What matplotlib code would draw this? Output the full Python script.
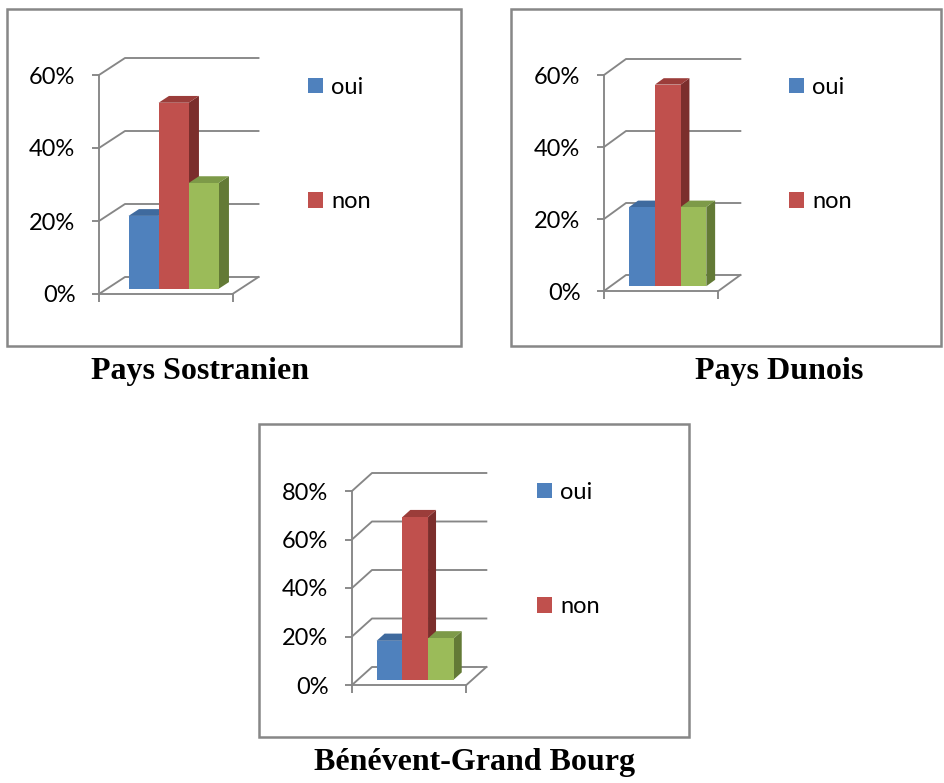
import matplotlib
matplotlib.use("Agg")
from matplotlib import pyplot as plt
from matplotlib.patches import Polygon, Rectangle, Patch
from matplotlib.ticker import PercentFormatter
import numpy as np

# data (percent)
titles = ["Pays Sostranien", "Pays Dunois", "Bénévent-Grand Bourg"]
legend_labels = ["oui", "non"]
oui = [20, 22, 16]
non = [51, 56, 67]
autre = [29, 22, 17]
y_max = [60, 60, 80]
y_step = 20

# colours: front, top, side
face_cols = ["#4F81BD", "#C0504D", "#9BBB59"]
top_cols = ["#3F6A9E", "#9B3D3A", "#7D9A48"]
side_cols = ["#2F5079", "#7B2E2C", "#637A36"]
grey = "#868686"

W, H = 945, 783
fig = plt.figure(figsize=(W / 100, H / 100), dpi=100)
plt.rcParams["font.family"] = ["Lato", "DejaVu Sans"]

def fx(x):
    return x / W

def fy(y):
    return 1 - y / H

# layout in pixels for each panel
# frame (left, top, right, bottom), axis origin, px per bar, px per %, depth px
layout = [
    dict(frame=(7, 9, 461, 346), origin=(99, 294), bw=30.0, s=3.65, depth=(26, -17),
         leg=(308, 77), title=(200, 379)),
    dict(frame=(511, 9, 941, 346), origin=(604, 291), bw=25.7, s=3.6, depth=(22, -16),
         leg=(789, 77), title=(779, 379)),
    dict(frame=(259, 424, 689, 737), origin=(352, 685), bw=25.7, s=2.425, depth=(20, -18),
         leg=(537, 482), title=(475, 770)),
]

floor_w = 4.45      # floor width in bar units
d0, dd = 0.3, 0.4   # depth where bars start, bar depth
lw = 1.35

for k, lay in enumerate(layout):
    left, top, right, bottom = lay["frame"]
    xa, y0 = lay["origin"]
    bw, s = lay["bw"], lay["s"]
    ax = fig.add_axes([fx(left), fy(bottom), (right - left) / W, (bottom - top) / H])
    ax.set_xlim((left - xa) / bw, (right - xa) / bw)
    ax.set_ylim((y0 - bottom) / s, (y0 - top) / s)
    ax.patch.set_visible(False)
    ax.add_patch(Rectangle((0, 0), 1, 1, transform=ax.transAxes, fill=False,
                           ec="#878787", lw=1.8, clip_on=False))

    ddx = lay["depth"][0] / bw
    ddy = -lay["depth"][1] / s
    ticks = np.arange(0, y_max[k] + 1, y_step)

    # walls: left diagonals and back gridlines
    for v in ticks:
        ax.plot([0, ddx, floor_w + ddx], [v, v + ddy, v + ddy], color=grey, lw=lw, zorder=1)
    # floor right edge
    ax.plot([floor_w, floor_w + ddx], [0, ddy], color=grey, lw=lw, zorder=1)

    for sp in ["top", "right"]:
        ax.spines[sp].set_visible(False)
    ax.spines["left"].set_position(("data", 0))
    ax.spines["bottom"].set_position(("data", 0))
    ax.spines["left"].set_bounds(0, y_max[k])
    ax.spines["bottom"].set_bounds(0, floor_w)
    for sp in ["left", "bottom"]:
        ax.spines[sp].set_color(grey)
        ax.spines[sp].set_linewidth(lw)
        ax.spines[sp].set_zorder(1)

    ax.set_yticks(ticks)
    ax.yaxis.set_major_formatter(PercentFormatter(decimals=0))
    ax.tick_params(axis="y", length=5, width=lw, color=grey, pad=12, labelsize=17)
    ax.set_xticks([0, floor_w])
    ax.set_xticklabels([])
    ax.tick_params(axis="x", length=6, width=lw, color=grey)

    # pseudo 3d bars
    vals = [oui[k], non[k], autre[k]]
    margin = (floor_w - len(vals)) / 2
    for i, v in enumerate(vals):
        x0 = margin + i + d0 * ddx
        yb = d0 * ddy
        ox, oy = dd * ddx, dd * ddy
        side = [(x0 + 1, yb), (x0 + 1 + ox, yb + oy), (x0 + 1 + ox, yb + v + oy), (x0 + 1, yb + v)]
        topf = [(x0, yb + v), (x0 + 1, yb + v), (x0 + 1 + ox, yb + v + oy), (x0 + ox, yb + v + oy)]
        ax.add_patch(Polygon(side, closed=True, fc=side_cols[i], ec="none", zorder=2 + i))
        ax.add_patch(Polygon(topf, closed=True, fc=top_cols[i], ec="none", zorder=2 + i))
        ax.add_patch(Rectangle((x0, yb), 1, v, fc=face_cols[i], ec="none", zorder=2 + i))

    handles = [Patch(fc=face_cols[0], ec="none"), Patch(fc=face_cols[1], ec="none")]
    ax.legend(handles, legend_labels, loc="upper left",
              bbox_to_anchor=(fx(lay["leg"][0]), fy(lay["leg"][1])),
              bbox_transform=fig.transFigure, frameon=False, borderpad=0,
              borderaxespad=0, handlelength=0.62, handleheight=0.62,
              handletextpad=0.35, labelspacing=3.95, fontsize=17)

    fig.text(fx(lay["title"][0]), fy(lay["title"][1]), titles[k], ha="center",
             va="baseline", family="Liberation Serif", weight="bold", fontsize=23)

fig.savefig("out.png", dpi=100)
